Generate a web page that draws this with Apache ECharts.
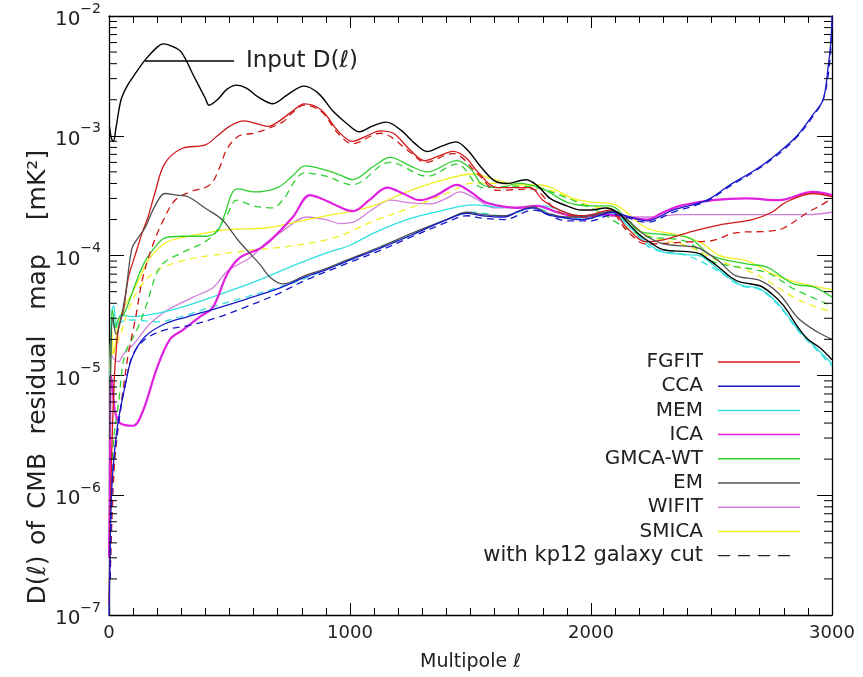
<!DOCTYPE html>
<html>
<head>
<meta charset="utf-8">
<script src="https://cdn.jsdelivr.net/npm/echarts@6/dist/echarts.min.js"></script>
<style>html,body{margin:0;padding:0;background:#fff}#c{width:863px;height:677px}</style>
</head>
<body>
<div id="c"></div>
<script>
// ---- data: [multipole l, D(l) in mK^2] ----
const INPUT = [[2,1.2e-3],[10,9.5e-4],[18,9e-4],[30,1.2e-3],[50,2.0e-3],[75,2.6e-3],[100,3.1e-3],[150,4.3e-3],[200,5.5e-3],[225,5.85e-3],[260,5.6e-3],[300,5.0e-3],[350,3.2e-3],[400,2.05e-3],[415,1.8e-3],[450,2.0e-3],[490,2.45e-3],[530,2.65e-3],[570,2.5e-3],[620,2.1e-3],[680,1.85e-3],[740,2.2e-3],[810,2.6e-3],[870,2.25e-3],[930,1.6e-3],[990,1.25e-3],[1040,1.08e-3],[1090,1.2e-3],[1150,1.3e-3],[1210,1.12e-3],[1270,8.6e-4],[1320,7.4e-4],[1380,8.2e-4],[1440,8.9e-4],[1490,7.5e-4],[1540,5.6e-4],[1600,4.2e-4],[1650,4.0e-4],[1730,4.3e-4],[1780,3.8e-4],[1830,3.0e-4],[1900,2.6e-4],[1960,2.4e-4],[2000,2.4e-4],[2060,2.5e-4],[2110,2.3e-4],[2150,1.9e-4],[2200,1.5e-4],[2250,1.27e-4],[2300,1.12e-4],[2400,1.08e-4],[2450,1.04e-4],[2490,9.2e-5],[2530,8e-5],[2580,6.6e-5],[2620,6e-5],[2700,5.6e-5],[2750,4.8e-5],[2800,3.8e-5],[2860,2.5e-5],[2900,2.0e-5],[2950,1.7e-5],[3000,1.35e-5]];

const FGFIT = [[0,1.2e-7],[4,4e-7],[8,1.2e-6],[15,4e-6],[25,1.2e-5],[40,2.5e-5],[60,3.5e-5],[80,6.5e-5],[108,1.0e-4],[140,1.6e-4],[162,2.1e-4],[190,3.3e-4],[230,5.8e-4],[300,7.8e-4],[400,8.4e-4],[450,1.0e-3],[500,1.2e-3],[560,1.33e-3],[620,1.25e-3],[660,1.2e-3],[700,1.3e-3],[760,1.6e-3],[810,1.85e-3],[880,1.65e-3],[950,1.1e-3],[1010,9.0e-4],[1070,1.0e-3],[1125,1.1e-3],[1180,1.05e-3],[1250,7.6e-4],[1310,6.2e-4],[1370,6.8e-4],[1427,7.4e-4],[1480,6.6e-4],[1530,5.0e-4],[1610,3.7e-4],[1700,3.7e-4],[1750,3.7e-4],[1800,2.9e-4],[1870,2.4e-4],[1950,2.15e-4],[2000,2.2e-4],[2080,2.4e-4],[2150,1.7e-4],[2230,1.3e-4],[2300,1.35e-4],[2400,1.55e-4],[2530,1.8e-4],[2670,2.0e-4],[2750,2.3e-4],[2810,2.8e-4],[2920,3.3e-4],[3000,3.1e-4]];
const FGFIT_CUT = [[5,2e-7],[20,1.5e-6],[40,4e-6],[60,8e-6],[80,1.5e-5],[110,3e-5],[140,6.5e-5],[180,1.2e-4],[224,1.95e-4],[274,2.9e-4],[336,3.4e-4],[419,3.9e-4],[460,5.5e-4],[490,7.8e-4],[540,1.0e-3],[600,1.05e-3],[660,1.15e-3],[720,1.3e-3],[760,1.55e-3],[810,1.8e-3],[880,1.6e-3],[950,1.05e-3],[1010,8.6e-4],[1125,1.05e-3],[1250,7.3e-4],[1310,6.0e-4],[1427,7.1e-4],[1530,4.8e-4],[1610,3.5e-4],[1750,3.6e-4],[1870,2.3e-4],[2000,2.1e-4],[2080,2.3e-4],[2150,1.6e-4],[2230,1.25e-4],[2400,1.3e-4],[2500,1.33e-4],[2600,1.55e-4],[2740,1.6e-4],[2800,1.7e-4],[2900,2.3e-4],[2950,2.6e-4],[3000,3.0e-4]];

const CCA = [[0,1e-7],[4,3e-7],[10,1e-6],[20,2e-6],[37,4e-6],[66,8e-6],[95,1.4e-5],[149,2.1e-5],[232,2.7e-5],[328,3.1e-5],[440,3.6e-5],[564,4.3e-5],[701,5.3e-5],[813,6.6e-5],[900,7.6e-5],[988,9e-5],[1124,1.15e-4],[1261,1.5e-4],[1402,2.0e-4],[1485,2.25e-4],[1550,2.15e-4],[1640,2.1e-4],[1700,2.35e-4],[1760,2.5e-4],[1820,2.2e-4],[1900,2.05e-4],[1954,2.0e-4],[2000,2.05e-4],[2090,2.3e-4],[2160,2.1e-4],[2232,1.95e-4],[2340,2.4e-4],[2481,2.9e-4],[2577,3.9e-4],[2689,5.3e-4],[2784,7.4e-4],[2855,1.0e-3],[2921,1.5e-3],[2963,2.0e-3],[2983,3.6e-3],[2995,6e-3],[3000,1e-2]];
const CCA_CUT = [[5,2e-7],[15,1.5e-6],[40,4e-6],[70,9e-6],[100,1.5e-5],[150,2e-5],[232,2.4e-5],[328,2.6e-5],[440,3.0e-5],[564,3.7e-5],[701,4.8e-5],[813,6.2e-5],[988,8.6e-5],[1124,1.1e-4],[1261,1.45e-4],[1402,1.9e-4],[1485,2.15e-4],[1550,2.05e-4],[1640,2.0e-4],[1760,2.4e-4],[1900,1.95e-4],[2000,1.95e-4],[2090,2.2e-4],[2232,1.9e-4],[2340,2.3e-4],[2481,2.85e-4],[2577,3.8e-4],[2689,5.2e-4],[2784,7.2e-4],[2855,9.8e-4],[2921,1.45e-3],[2963,2.0e-3],[2990,4e-3],[3000,9e-3]];

const MEM = [[2,1e-6],[6,1.5e-5],[12,3.5e-5],[20,3.8e-5],[30,2.5e-5],[50,3.2e-5],[100,3.1e-5],[200,3.3e-5],[300,3.7e-5],[440,4.6e-5],[600,6e-5],[780,8.5e-5],[900,1.05e-4],[1000,1.22e-4],[1100,1.55e-4],[1236,2.0e-4],[1373,2.35e-4],[1510,2.65e-4],[1600,2.55e-4],[1700,2.5e-4],[1800,2.6e-4],[1925,2.2e-4],[2000,2.15e-4],[2080,2.3e-4],[2150,1.8e-4],[2250,1.2e-4],[2300,1.07e-4],[2400,1.02e-4],[2450,1.0e-4],[2530,7.6e-5],[2620,5.7e-5],[2700,5.3e-5],[2780,3.9e-5],[2860,2.4e-5],[2940,1.65e-5],[3000,1.25e-5]];
const MEM_CUT = [[5,1e-5],[12,3e-5],[25,2.5e-5],[50,2.8e-5],[100,2.9e-5],[200,2.8e-5],[300,3.1e-5],[420,3.7e-5],[550,4.4e-5],[700,5.4e-5],[800,6.3e-5],[900,7.6e-5],[1000,9.2e-5],[1124,1.17e-4],[1261,1.5e-4],[1402,2.0e-4],[1510,2.3e-4],[1640,2.15e-4],[1760,2.5e-4],[1900,2.05e-4],[2000,2.05e-4],[2090,2.25e-4],[2160,1.75e-4],[2250,1.15e-4],[2400,1.0e-4],[2530,7.4e-5],[2620,5.6e-5],[2700,5.2e-5],[2780,3.8e-5],[2860,2.35e-5],[2940,1.6e-5],[3000,1.2e-5]];

const ICA = [[0,3e-7],[3,8e-7],[8,1e-5],[15,8e-6],[25,5e-6],[46,4e-6],[100,3.8e-6],[140,5e-6],[199,1.15e-5],[253,2.0e-5],[307,2.4e-5],[378,3.1e-5],[431,3.7e-5],[490,7e-5],[543,9.6e-5],[627,1.15e-4],[680,1.4e-4],[763,2.1e-4],[834,3.2e-4],[880,3.0e-4],[930,2.7e-4],[1012,2.35e-4],[1080,2.9e-4],[1154,3.7e-4],[1220,3.3e-4],[1290,2.9e-4],[1360,3.2e-4],[1444,3.9e-4],[1500,3.4e-4],[1560,2.8e-4],[1622,2.6e-4],[1700,2.5e-4],[1776,2.6e-4],[1860,2.3e-4],[1954,2.1e-4],[2050,2.2e-4],[2120,2.15e-4],[2232,2.0e-4],[2300,2.3e-4],[2369,2.6e-4],[2506,2.9e-4],[2647,3.0e-4],[2780,2.9e-4],[2921,3.4e-4],[3000,3.2e-4]];

const GMCA = [[2,1e-6],[8,2e-5],[15,3.5e-5],[25,2.5e-5],[40,3e-5],[60,3.2e-5],[90,4.5e-5],[120,6.6e-5],[150,9e-5],[190,1.17e-4],[230,1.4e-4],[300,1.45e-4],[400,1.45e-4],[450,1.6e-4],[480,2.2e-4],[510,3.3e-4],[535,3.6e-4],[600,3.4e-4],[700,3.7e-4],[760,4.6e-4],[813,5.6e-4],[880,5.3e-4],[960,4.7e-4],[1010,4.3e-4],[1100,5.6e-4],[1166,6.6e-4],[1250,5.6e-4],[1320,5.0e-4],[1444,6.2e-4],[1500,5.3e-4],[1550,3.9e-4],[1620,3.7e-4],[1700,4.0e-4],[1800,3.6e-4],[1900,2.8e-4],[2000,2.6e-4],[2080,2.6e-4],[2150,2.0e-4],[2200,1.6e-4],[2300,1.5e-4],[2410,1.4e-4],[2500,1.0e-4],[2650,8.5e-5],[2730,8e-5],[2840,5.8e-5],[2920,5.5e-5],[3000,4.5e-5]];
const GMCA_CUT = [[5,1e-6],[20,3e-6],[40,6e-6],[66,1.5e-5],[116,2.4e-5],[158,4e-5],[190,6.5e-5],[224,8.6e-5],[300,1.05e-4],[420,1.4e-4],[490,2.2e-4],[530,2.9e-4],[600,2.6e-4],[680,2.5e-4],[720,2.9e-4],[813,4.9e-4],[900,4.6e-4],[1010,3.9e-4],[1166,6.0e-4],[1320,4.6e-4],[1444,5.8e-4],[1550,3.7e-4],[1700,3.8e-4],[2000,2.5e-4],[2200,1.5e-4],[2400,1.3e-4],[2500,9e-5],[2730,7.2e-5],[2840,5.3e-5],[3000,3.8e-5]];

const EM = [[2,3e-6],[8,1.5e-5],[15,3e-5],[30,2.2e-5],[50,3e-5],[70,5e-5],[95,1.15e-4],[120,1.4e-4],[149,1.7e-4],[191,2.6e-4],[232,3.3e-4],[280,3.2e-4],[328,3.1e-4],[398,2.5e-4],[469,2.0e-4],[535,1.35e-4],[593,1.0e-4],[627,8.4e-5],[668,6.6e-5],[722,5.8e-5],[813,6.8e-5],[900,7.8e-5],[988,9.2e-5],[1124,1.18e-4],[1261,1.55e-4],[1402,2.0e-4],[1485,2.3e-4],[1550,2.2e-4],[1640,2.15e-4],[1760,2.55e-4],[1820,2.25e-4],[1900,2.1e-4],[2000,2.15e-4],[2090,2.35e-4],[2150,2.0e-4],[2220,1.5e-4],[2300,1.25e-4],[2400,1.2e-4],[2450,1.15e-4],[2530,9e-5],[2600,6.8e-5],[2700,6.2e-5],[2780,4.8e-5],[2860,3.0e-5],[2940,2.3e-5],[3000,2.0e-5]];

const WIFIT = [[3,1e-5],[10,1.5e-5],[17,1.4e-5],[40,1.3e-5],[60,1.5e-5],[100,1.8e-5],[170,2.7e-5],[241,3.5e-5],[349,4.5e-5],[431,5.4e-5],[494,7.5e-5],[585,9.6e-5],[656,1.3e-4],[720,1.6e-4],[822,2.1e-4],[900,2.0e-4],[958,1.85e-4],[1012,1.9e-4],[1090,2.4e-4],[1166,2.9e-4],[1250,2.75e-4],[1332,2.7e-4],[1400,3.0e-4],[1456,3.4e-4],[1520,3.0e-4],[1600,2.5e-4],[1700,2.55e-4],[1776,2.6e-4],[1860,2.3e-4],[1954,2.1e-4],[2050,2.15e-4],[2150,2.1e-4],[2232,2.1e-4],[2369,2.2e-4],[2500,2.2e-4],[2650,2.2e-4],[2784,2.2e-4],[2900,2.2e-4],[3000,2.3e-4]];

const SMICA = [[3,1e-5],[10,2.5e-5],[20,1.5e-5],[35,2.5e-5],[58,3.6e-5],[87,4.5e-5],[129,6.6e-5],[170,9.6e-5],[241,1.3e-4],[330,1.45e-4],[490,1.65e-4],[650,1.7e-4],[800,1.95e-4],[925,2.2e-4],[1010,2.35e-4],[1096,2.6e-4],[1236,3.4e-4],[1373,4.2e-4],[1510,4.8e-4],[1600,4.3e-4],[1700,3.9e-4],[1790,3.9e-4],[1925,3.0e-4],[2000,2.8e-4],[2090,2.7e-4],[2230,1.7e-4],[2350,1.5e-4],[2450,1.3e-4],[2535,1.0e-4],[2650,9e-5],[2755,7e-5],[2850,6e-5],[3000,5.2e-5]];
const SMICA_CUT = [[10,1.5e-5],[40,2e-5],[80,3.5e-5],[130,5.5e-5],[200,7.5e-5],[300,9e-5],[420,1.0e-4],[573,1.1e-4],[750,1.2e-4],[930,1.4e-4],[1100,1.95e-4],[1250,2.5e-4],[1415,3.4e-4],[1500,4.0e-4],[1600,4.0e-4],[1790,3.7e-4],[2000,2.6e-4],[2100,2.4e-4],[2230,1.5e-4],[2400,1.2e-4],[2535,9e-5],[2650,7.5e-5],[2730,6.2e-5],[2840,4.5e-5],[2920,3.8e-5],[3000,3.4e-5]];

const X_TICKS = [0, 1000, 2000, 3000];
const LEGEND_NAMES = ['FGFIT','CCA','MEM','ICA','GMCA-WT','EM','WIFIT','SMICA'];
const COLORS = {FGFIT:'#d01818', CCA:'#1818c8', MEM:'#30e0e0', ICA:'#e020e0', 'GMCA-WT':'#30d030', EM:'#505050', WIFIT:'#d080d8', SMICA:'#f0f020'};

const FONT = 'DejaVu Sans';
const chart = echarts.init(document.getElementById('c'), null, {renderer:'canvas'});

function line(name, data, color, dashed, width) {
  return {name, type:'line', data, showSymbol:false, symbol:'none', silent:true, animation:false,
    smooth:0.35, xAxisIndex:0, yAxisIndex:0,
    lineStyle:{color, width: width || 1.3, type: dashed ? [7,5] : 'solid'}, z:3};
}

const minorVals = [];
for (let e = -7; e < -2; e++) for (let m = 2; m <= 9; m++) minorVals.push(m * Math.pow(10, e));

const series = [
  line('WIFIT', WIFIT, COLORS.WIFIT),
  line('SMICA', SMICA, COLORS.SMICA),
  line('SMICA cut', SMICA_CUT, COLORS.SMICA, true),
  line('MEM', MEM, COLORS.MEM),
  line('MEM cut', MEM_CUT, COLORS.MEM, true),
  line('GMCA-WT', GMCA, COLORS['GMCA-WT']),
  line('GMCA-WT cut', GMCA_CUT, COLORS['GMCA-WT'], true),
  line('ICA', ICA, COLORS.ICA, false, 2.2),
  line('FGFIT', FGFIT, COLORS.FGFIT),
  line('FGFIT cut', FGFIT_CUT, COLORS.FGFIT, true),
  line('EM', EM, COLORS.EM),
  line('CCA', CCA, COLORS.CCA),
  line('CCA cut', CCA_CUT, COLORS.CCA, true),
  line('Input', INPUT, '#000000', false, 1.4),
  {type:'custom', silent:true, animation:false, xAxisIndex:0, yAxisIndex:0, z:5,
   data: minorVals.map(v => [0, v]),
   renderItem: function(params, api) {
     const v = api.value(1);
     const a = api.coord([0, v]);
     const b = api.coord([3000, v]);
     return {type:'group', children:[
       {type:'line', shape:{x1:a[0], y1:a[1], x2:a[0]+8, y2:a[1]}, style:{stroke:'#000', lineWidth:1}},
       {type:'line', shape:{x1:b[0]-8, y1:b[1], x2:b[0], y2:b[1]}, style:{stroke:'#000', lineWidth:1}}
     ]};
   }}
];

const legendGraphics = [];
const rowTop = 362, rowStep = 24.2;
LEGEND_NAMES.forEach((n, i) => {
  const y = rowTop + i * rowStep;
  legendGraphics.push({type:'text', x:703, y:y, style:{text:n, font:'20px "DejaVu Sans"', fill:'#222', textAlign:'right', textVerticalAlign:'middle'}});
  legendGraphics.push({type:'line', shape:{x1:718, y1:y, x2:800, y2:y}, style:{stroke:COLORS[n], lineWidth:1.5}});
});
{
  const y = rowTop + 8 * rowStep;
  legendGraphics.push({type:'text', x:703, y:y, style:{text:'with kp12 galaxy cut', font:'21px "DejaVu Sans"', fill:'#222', textAlign:'right', textVerticalAlign:'middle'}});
  legendGraphics.push({type:'line', shape:{x1:718, y1:y, x2:792, y2:y}, style:{stroke:'#222', lineWidth:1.3, lineDash:[12,8]}});
}

const yTitle = [
  {t:'D(ℓ)', y:580}, {t:'of', y:533}, {t:'CMB', y:481}, {t:'residual', y:385}, {t:'map', y:282}, {t:'[mK²]', y:185}
].map(o => ({type:'text', x:38, y:o.y, rotation:Math.PI/2,
  style:{text:o.t, font:'25px "DejaVu Sans"', fill:'#222', textAlign:'center', textVerticalAlign:'middle'}}));

const option = {
  backgroundColor:'#fff',
  animation:false,
  grid:{left:109, right:31, top:16, bottom:55, containLabel:false},
  xAxis:[
    {type:'value', min:0, max:3000, interval:1000, position:'bottom',
     axisLine:{onZero:false, lineStyle:{color:'#000', width:1.3}},
     axisTick:{inside:true, length:12, lineStyle:{color:'#000', width:1}},
     minorTick:{show:true, splitNumber:10, length:7, lineStyle:{color:'#000', width:1}},
     splitLine:{show:false},
     axisLabel:{fontFamily:FONT, fontSize:18, color:'#222', margin:9,
       formatter: v => X_TICKS.indexOf(v) >= 0 ? String(v) : ''},
     name:'Multipole ℓ', nameLocation:'middle', nameGap:38,
     nameTextStyle:{fontFamily:FONT, fontSize:19, color:'#222'}},
    {type:'value', min:0, max:3000, interval:1000, position:'top',
     axisLine:{onZero:false, lineStyle:{color:'#000', width:1.3}},
     axisTick:{inside:true, length:12, lineStyle:{color:'#000', width:1}},
     minorTick:{show:true, splitNumber:10, length:7, lineStyle:{color:'#000', width:1}},
     splitLine:{show:false}, axisLabel:{show:false}}
  ],
  yAxis:[
    {type:'log', logBase:10, min:1e-7, max:1e-2, splitNumber:5, position:'left',
     axisLine:{onZero:false, lineStyle:{color:'#000', width:1.3}},
     axisTick:{inside:true, length:15, lineStyle:{color:'#000', width:1}},
     splitLine:{show:false},
     axisLabel:{margin:8, color:'#222',
       formatter: v => '{b|10}{s|−' + Math.abs(Math.round(Math.log10(v))) + '}',
       rich:{b:{fontFamily:FONT, fontSize:20, color:'#222', lineHeight:28, verticalAlign:'bottom'},
             s:{fontFamily:FONT, fontSize:14, color:'#222', lineHeight:14, verticalAlign:'top'}}}},
    {type:'log', logBase:10, min:1e-7, max:1e-2, splitNumber:5, position:'right',
     axisLine:{onZero:false, lineStyle:{color:'#000', width:1.3}},
     axisTick:{inside:true, length:15, lineStyle:{color:'#000', width:1}},
     splitLine:{show:false}, axisLabel:{show:false}}
  ],
  graphic: [
    {type:'line', shape:{x1:145, y1:61, x2:234, y2:61}, style:{stroke:'#000', lineWidth:1.4}},
    {type:'text', x:246, y:61, style:{text:'Input D(ℓ)', font:'23px "DejaVu Sans"', fill:'#222', textAlign:'left', textVerticalAlign:'middle'}}
  ].concat(legendGraphics).concat(yTitle),
  series: series
};
chart.setOption(option);
</script>
</body>
</html>
